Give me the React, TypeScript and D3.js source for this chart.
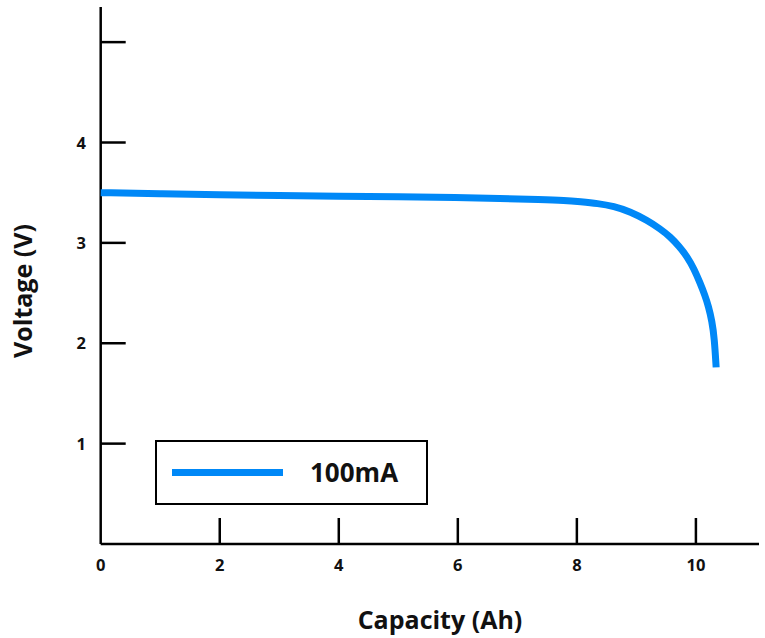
import React, { useEffect, useRef } from 'react'
import * as d3 from 'd3'

// discharge curve at 100mA
const capacity = [0, 1, 2, 3, 4, 5, 6, 6.7, 7.4, 7.8, 8.06, 8.35, 8.62, 8.9, 9.18, 9.4, 9.57, 9.72, 9.85, 9.97, 10.07, 10.15, 10.21, 10.27, 10.31, 10.34]
const voltage = [3.5, 3.49, 3.48, 3.47, 3.465, 3.46, 3.455, 3.44, 3.432, 3.424, 3.41, 3.393, 3.365, 3.31, 3.225, 3.14, 3.06, 2.965, 2.865, 2.74, 2.6, 2.48, 2.37, 2.22, 2.05, 1.76]
const xTicks = [0, 2, 4, 6, 8, 10]
const yTicks = [1, 2, 3, 4, 5]
const yTickLabels = ['1', '2', '3', '4', '']
const seriesName = '100mA'

const W = 765
const H = 638
const FONT = '"Open Sans", "Noto Sans", sans-serif'
const BLUE = '#0088f7'

function DischargeChart() {
  const ref = useRef<SVGSVGElement>(null)

  useEffect(() => {
    const svg = d3.select(ref.current)
    svg.selectAll('*').remove()

    const x = d3.scaleLinear().domain([0, 11.06]).range([100.7, 759])
    const y = d3.scaleLinear().domain([0, 5.35]).range([544, 7])

    // axes lines
    svg.append('line')
      .attr('x1', x(0)).attr('x2', x(11.06))
      .attr('y1', y(0)).attr('y2', y(0))
      .attr('stroke', '#000').attr('stroke-width', 2.5)
    svg.append('line')
      .attr('x1', x(0)).attr('x2', x(0))
      .attr('y1', y(0)).attr('y2', y(5.35))
      .attr('stroke', '#000').attr('stroke-width', 2.5)

    // x ticks go up into the plot
    const xg = svg.append('g')
    xg.selectAll('line')
      .data(xTicks.filter(d => d > 0))
      .join('line')
      .attr('x1', d => x(d)).attr('x2', d => x(d))
      .attr('y1', y(0)).attr('y2', y(0) - 26)
      .attr('stroke', '#000').attr('stroke-width', 2.5)
    xg.selectAll('text')
      .data(xTicks)
      .join('text')
      .attr('x', d => x(d))
      .attr('y', 571)
      .attr('text-anchor', 'middle')
      .attr('font-family', FONT)
      .attr('font-weight', 700)
      .attr('font-size', 16.5)
      .attr('fill', '#111')
      .text(d => String(d))

    // y ticks go right into the plot
    const yg = svg.append('g')
    yg.selectAll('line')
      .data(yTicks)
      .join('line')
      .attr('x1', x(0)).attr('x2', x(0) + 25)
      .attr('y1', d => y(d)).attr('y2', d => y(d))
      .attr('stroke', '#000').attr('stroke-width', 2.5)
    yg.selectAll('text')
      .data(yTicks)
      .join('text')
      .attr('x', 86)
      .attr('y', d => y(d) + 6)
      .attr('text-anchor', 'end')
      .attr('font-family', FONT)
      .attr('font-weight', 700)
      .attr('font-size', 16.5)
      .attr('fill', '#111')
      .text((d, i) => yTickLabels[i])

    // curve
    const pts: [number, number][] = capacity.map((c, i) => [c, voltage[i]])
    const line = d3.line<[number, number]>()
      .x(d => x(d[0]))
      .y(d => y(d[1]))
      .curve(d3.curveBasis)
    svg.append('path')
      .datum(pts)
      .attr('d', line)
      .attr('fill', 'none')
      .attr('stroke', BLUE)
      .attr('stroke-width', 7)

    // legend
    svg.append('rect')
      .attr('x', 156).attr('y', 441)
      .attr('width', 271).attr('height', 63)
      .attr('fill', '#fff')
      .attr('stroke', '#000').attr('stroke-width', 2)
    svg.append('line')
      .attr('x1', 172).attr('x2', 283)
      .attr('y1', 472.5).attr('y2', 472.5)
      .attr('stroke', BLUE).attr('stroke-width', 7)
    svg.append('text')
      .attr('x', 310).attr('y', 482)
      .attr('font-family', FONT)
      .attr('font-weight', 700)
      .attr('font-size', 26)
      .attr('fill', '#111')
      .text(seriesName)

    // axis titles
    svg.append('text')
      .attr('x', 440).attr('y', 629)
      .attr('text-anchor', 'middle')
      .attr('font-family', FONT)
      .attr('font-weight', 700)
      .attr('font-size', 25)
      .attr('fill', '#111')
      .text('Capacity (Ah)')
    svg.append('text')
      .attr('transform', 'translate(32,291) rotate(-90)')
      .attr('text-anchor', 'middle')
      .attr('font-family', FONT)
      .attr('font-weight', 700)
      .attr('font-size', 25)
      .attr('fill', '#111')
      .text('Voltage (V)')
  }, [])

  return (
    <svg ref={ref} width={W} height={H}
      style={{ position: 'absolute', left: 0, top: 0, background: '#fff' }} />
  )
}

export default function App() {
  return <DischargeChart />
}
